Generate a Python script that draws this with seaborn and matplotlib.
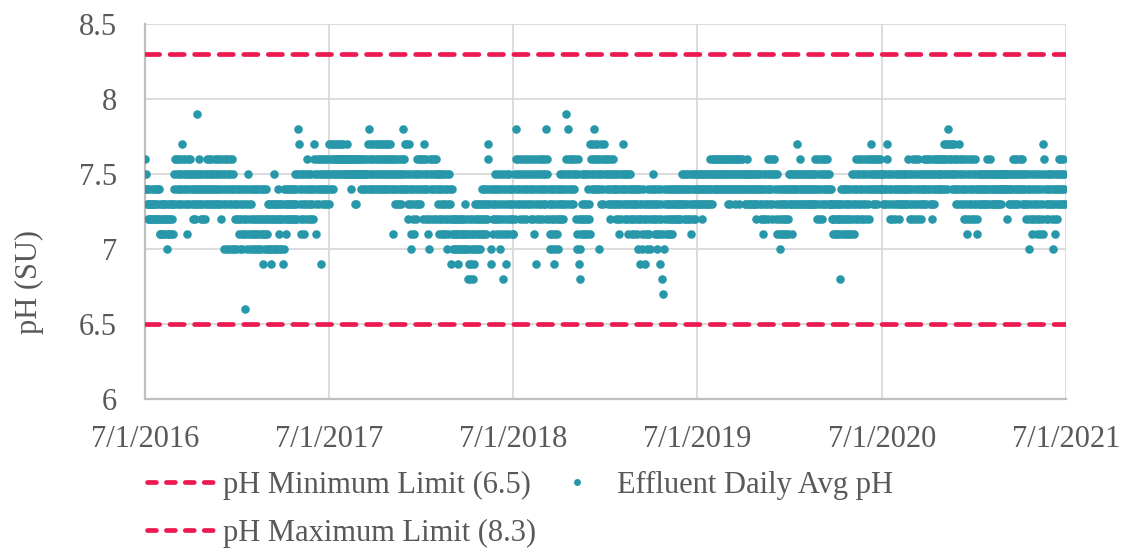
import numpy as np
import pandas as pd
import matplotlib
matplotlib.use("Agg")
import matplotlib.pyplot as plt
import matplotlib.dates as mdates
from matplotlib.lines import Line2D
import seaborn as sns

# ---------------- data ----------------
PH_MIN = 6.5
PH_MAX = 8.3
START_MONTH = "2016-07-01"
# one string per month (Jul 2016 .. Jun 2021); one char per daily reading
# '0'..'9' -> 7.0..7.9 ; 'a' -> 6.9, 'b' -> 6.8, 'c' -> 6.7, 'd' -> 6.6
PH_CODES = [
    "6544332243322433224332244322411",   # 2016-07
    "3213213213202132132132134563",      # 2016-08
    "6543654365437654365431654365",      # 2016-09
    "5432543254395436543254325432543",   # 2016-10
    "6543654365435436543654365432",      # 2016-11
    "654306543065430654306543024302",    # 2016-12
    "43210432104321d4321054321043210",   # 2017-01
    "4210421042104210421a42104210",      # 2017-02
    "320320a32032053203204321032032",    # 2017-03
    "a0432143243243243243243254325",     # 2017-04
    "87543215432154326543254325432",     # 2017-05
    "7654316543654a6543654365436543",    # 2017-06
    "7654765476567656765676567656765",   # 2017-07
    "65656765656546565656353656565",     # 2017-08
    "6545654565456547865476547654",      # 2017-09
    "7654765476547654765476547654765",   # 2017-10
    "6541654365436543654365486547",      # 2017-11
    "75432754310543215432654365436",     # 2017-12
    "65427654265421065426542654265",     # 2018-01
    "543215432154321543210543215432a",   # 2018-02
    "4210210210210a210210210210310",     # 2018-03
    "2b1a02b1a02b1a0321032103210321",    # 2018-04
    "432143214327643a0432143254321",     # 2018-05
    "54321054321b54321a5432154324321",   # 2018-06
    "15432865436543265432654326543",     # 2018-07
    "65432654321654a3265432654326543",   # 2018-08
    "654328654321043210432a1043210432",  # 2018-09
    "5432543254396543865436543654",      # 2018-10
    "65210652a0b2153215321532154321",    # 2018-11
    "765476548765476540654376543765",    # 2018-12
    "654365423654365435432543215432",    # 2019-01
    "5437543254321543254321432143",      # 2019-02
    "43210432a432104321a3210432103",     # 2019-03
    "43254321432104321a432b1c04321",     # 2019-04
    "43214321432143243243243243243",     # 2019-05
    "5432543254325432154325432543",      # 2019-06
    "54354354325435435435435436543",     # 2019-07
    "6546546546546546546546546546543",   # 2019-08
    "65436546546543654654365465465",     # 2019-09
    "54354356543543543543543254354",     # 2019-10
    "5432543215432543265436543265",      # 2019-11
    "6543215432104321432143214321543",   # 2019-12
    "543154354354375436543543543",       # 2020-01
    "5435435435435435436543265432",      # 2020-02
    "65432654365436543543432321321",     # 2020-03
    "32132132b4321432143214321432",      # 2020-04
    "154321543265432654326543265432",    # 2020-05
    "654326547654365436543654654654",    # 2020-06
    "54354354376543254325432543",        # 2020-07
    "5432543543543543543654325432",      # 2020-08
    "6543265432654325435436543654",      # 2020-09
    "65436543265436546546546546546",     # 2020-10
    "76547654876576547654765436543",     # 2020-11
    "7654365432654321654326543265432",   # 2020-12
    "65432154354354354354354365435",     # 2021-01
    "6543543543543543543543545454",      # 2021-02
    "54554254354354365436543654354",     # 2021-03
    "65436543543254320543215432",        # 2021-04
    "5432154321543217654325432543",      # 2021-05
    "54320543215432543654365436543",     # 2021-06
]
CODE_MAP = {str(d): 7.0 + d / 10 for d in range(10)}
CODE_MAP.update({"a": 6.9, "b": 6.8, "c": 6.7, "d": 6.6})

X_TICKS = ["2016-07-01", "2017-07-01", "2018-07-01", "2019-07-01", "2020-07-01", "2021-07-01"]
X_TICK_LABELS = ["7/1/2016", "7/1/2017", "7/1/2018", "7/1/2019", "7/1/2020", "7/1/2021"]
Y_TICKS = [6, 6.5, 7, 7.5, 8, 8.5]
Y_TICK_LABELS = ["6", "6.5", "7", "7.5", "8", "8.5"]

# build daily table
month_starts = pd.date_range(START_MONTH, periods=len(PH_CODES), freq="MS")
dates, vals = [], []
for ms, codes in zip(month_starts, PH_CODES):
    ndays = ms.days_in_month
    for i, ch in enumerate(codes):
        dates.append(ms + pd.Timedelta(days=i * ndays // len(codes)))
        vals.append(CODE_MAP[ch])
df = pd.DataFrame({"date": dates, "pH": vals})

# ---------------- style ----------------
sns.set_theme(style="white")
plt.rcParams["font.family"] = ["Liberation Serif", "DejaVu Serif"]
TEXT = "#595959"
TEAL = "#2897A9"
RED = "#EC1A51"
GRID = "#d9d9d9"
AXIS = "#bfbfbf"
FS = 22

fig = plt.figure(figsize=(11.28, 5.52), dpi=100)
ax = fig.add_axes([145 / 1128, 1 - 399 / 552, (1066 - 145) / 1128, (399 - 24) / 552])

sns.scatterplot(data=df, x="date", y="pH", ax=ax, color=TEAL, s=38,
                linewidth=0, zorder=3, legend=False)

for lim in (PH_MIN, PH_MAX):
    ax.axhline(lim, color=RED, lw=3.4, dashes=(3.0, 2.2),
               dash_capstyle="round", zorder=4)

ax.set_xlim(pd.Timestamp(X_TICKS[0]), pd.Timestamp(X_TICKS[-1]))
ax.set_ylim(Y_TICKS[0], Y_TICKS[-1])
ax.set_xticks([pd.Timestamp(t) for t in X_TICKS])
ax.set_xticklabels(X_TICK_LABELS)
ax.set_yticks(Y_TICKS)
ax.set_yticklabels(Y_TICK_LABELS)
ax.tick_params(axis="both", length=0, labelsize=FS, labelcolor=TEXT)
ax.tick_params(axis="y", pad=20)
ax.tick_params(axis="x", pad=19)

ax.grid(True, color=GRID, lw=1.3, zorder=0)
ax.set_axisbelow(True)
for side in ("top", "right"):
    ax.spines[side].set_visible(False)
for side in ("left", "bottom"):
    ax.spines[side].set_color(AXIS)
    ax.spines[side].set_linewidth(1.6)
    ax.spines[side].set_zorder(2)

ax.set_xlabel("")
ax.set_ylabel("pH (SU)", fontsize=FS, color=TEXT)
ax.yaxis.set_label_coords(-0.110, 0.312)

handles = [
    Line2D([], [], color=RED, lw=3.4, dashes=(1.9, 2.1), dash_capstyle="round"),
    Line2D([], [], color=RED, lw=3.4, dashes=(1.9, 2.1), dash_capstyle="round"),
    Line2D([], [], color=TEAL, lw=0, marker="o", markersize=5, markeredgewidth=0),
]
labels = ["pH Minimum Limit (6.5)", "pH Maximum Limit (8.3)", "Effluent Daily Avg pH"]
leg = fig.legend(handles, labels, loc="upper left", bbox_to_anchor=(147 / 1128, 1 - 471 / 552),
                 ncol=2, frameon=False, fontsize=FS, handlelength=2.38, handletextpad=0.12,
                 columnspacing=0.15, labelspacing=0.62, borderpad=0.0, borderaxespad=0.0)
for t in leg.get_texts():
    t.set_color(TEXT)

fig.savefig("out.png", dpi=100)
